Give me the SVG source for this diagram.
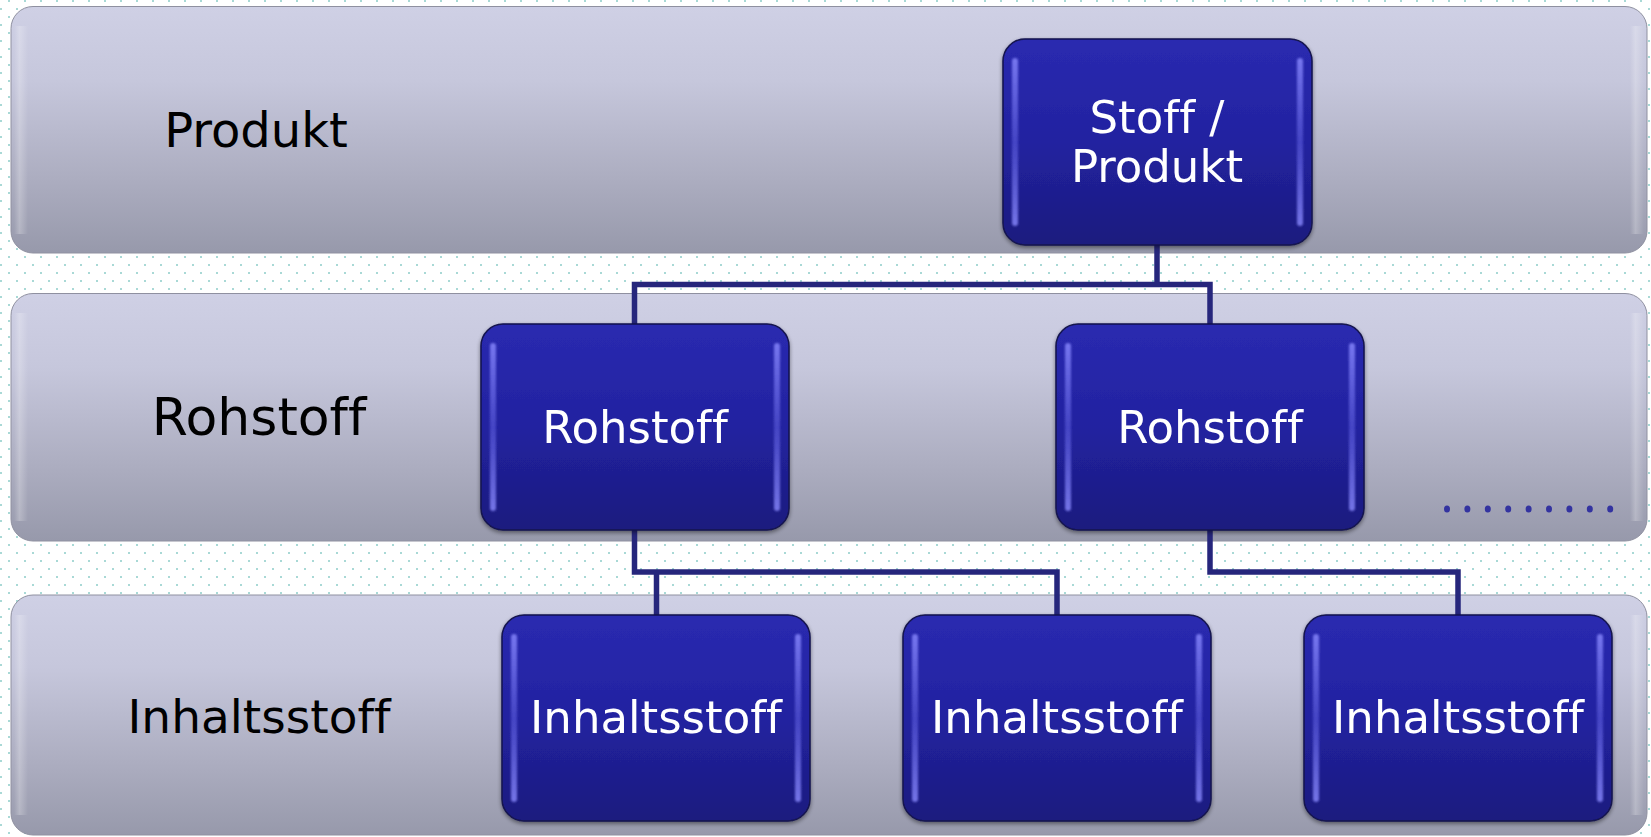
<svg xmlns="http://www.w3.org/2000/svg" width="1651" height="837" viewBox="0 0 1651 837">
<defs>
<pattern id="dots" width="16" height="16" patternUnits="userSpaceOnUse">
<rect x="8" y="0" width="2" height="2" fill="#a9d9d6"/>
<rect x="0" y="8" width="2" height="2" fill="#a9d9d6"/>
</pattern>
<linearGradient id="bandG" x1="0" y1="0" x2="0" y2="1">
<stop offset="0" stop-color="#cfd0e5"/>
<stop offset="0.3" stop-color="#c6c7dc"/>
<stop offset="0.7" stop-color="#acadc0"/>
<stop offset="1" stop-color="#9799ab"/>
</linearGradient>
<linearGradient id="bandEdge" x1="0" y1="0" x2="1" y2="0">
<stop offset="0" stop-color="#ffffff" stop-opacity="0"/>
<stop offset="0.4" stop-color="#ffffff" stop-opacity="0.25"/>
<stop offset="1" stop-color="#ffffff" stop-opacity="0"/>
</linearGradient>
<linearGradient id="nodeG" x1="0" y1="0" x2="0" y2="1">
<stop offset="0" stop-color="#2a2ab0"/>
<stop offset="0.5" stop-color="#2222a0"/>
<stop offset="1" stop-color="#1b1b7e"/>
</linearGradient>
<linearGradient id="hiG" x1="0" y1="0" x2="0" y2="1">
<stop offset="0" stop-color="#8a8aff" stop-opacity="0.8"/>
<stop offset="0.5" stop-color="#6f6ff0" stop-opacity="0.45"/>
<stop offset="1" stop-color="#8a8aff" stop-opacity="0.8"/>
</linearGradient>
<filter id="blur" x="-100%" y="-10%" width="300%" height="120%">
<feGaussianBlur stdDeviation="1.3"/>
</filter>
<filter id="sh" x="-10%" y="-10%" width="120%" height="125%">
<feGaussianBlur in="SourceAlpha" stdDeviation="2"/>
<feOffset dx="0" dy="2" result="b"/>
<feComponentTransfer><feFuncA type="linear" slope="0.45"/></feComponentTransfer>
<feMerge><feMergeNode/><feMergeNode in="SourceGraphic"/></feMerge>
</filter>
</defs>
<style>
.band{fill:url(#bandG);stroke:#8f90a0;stroke-width:1}
.bedge{fill:url(#bandEdge)}
.node{fill:url(#nodeG);stroke:#14144e;stroke-width:1.5}
.hi{fill:url(#hiG);filter:url(#blur)}
.lbl{font-family:"DejaVu Sans",sans-serif;fill:#000;text-anchor:middle;font-variant-ligatures:none;font-feature-settings:"liga" 0}
.ntx{font-family:"DejaVu Sans",sans-serif;fill:#fff;text-anchor:middle;font-size:45px;font-variant-ligatures:none;font-feature-settings:"liga" 0}
.con{fill:none;stroke:#26267c;stroke-width:5.5;stroke-linejoin:miter}
</style>
<rect width="1651" height="837" fill="#ffffff"/>
<rect width="1651" height="837" fill="url(#dots)"/>

<g id="band-produkt">
<rect class="band" x="11" y="6.5" width="1636" height="246.5" rx="22"/>
<rect class="bedge" x="14" y="26" width="14" height="208"/>
<rect class="bedge" x="1630" y="26" width="14" height="208"/>
<text class="lbl" x="256" y="147" font-size="48">Produkt</text>
</g>
<g id="band-rohstoff">
<rect class="band" x="11" y="293.5" width="1636" height="247.5" rx="22"/>
<rect class="bedge" x="14" y="313" width="14" height="208"/>
<rect class="bedge" x="1630" y="313" width="14" height="208"/>
<text class="lbl" x="259" y="435" font-size="52">Rohstoff</text>
<g fill="#3333a0">
<ellipse cx="1447" cy="509" rx="3" ry="3.5"/>
<ellipse cx="1467.4" cy="509" rx="3" ry="3.5"/>
<ellipse cx="1487.8" cy="509" rx="3" ry="3.5"/>
<ellipse cx="1508.2" cy="509" rx="3" ry="3.5"/>
<ellipse cx="1528.6" cy="509" rx="3" ry="3.5"/>
<ellipse cx="1549" cy="509" rx="3" ry="3.5"/>
<ellipse cx="1569.4" cy="509" rx="3" ry="3.5"/>
<ellipse cx="1589.8" cy="509" rx="3" ry="3.5"/>
<ellipse cx="1610.2" cy="509" rx="3" ry="3.5"/>
</g>
</g>
<g id="band-inhaltsstoff">
<rect class="band" x="11" y="595" width="1636" height="240" rx="22"/>
<rect class="bedge" x="14" y="615" width="14" height="200"/>
<rect class="bedge" x="1630" y="615" width="14" height="200"/>
<text class="lbl" x="259" y="733" font-size="47">Inhaltsstoff</text>
</g>

<g id="connectors">
<polyline class="con" points="1157,245 1157,284.5"/>
<polyline class="con" points="634.5,326 634.5,284.5 1210,284.5 1210,326"/>
<polyline class="con" points="634.5,530 634.5,572 1057,572 1057,617"/>
<polyline class="con" points="656.5,572 656.5,617"/>
<polyline class="con" points="1210,530 1210,572 1458,572 1458,617"/>
</g>

<g id="node-stoff-produkt" filter="url(#sh)">
<rect class="node" x="1003" y="39" width="309" height="206" rx="22"/>
<rect class="hi" x="1012" y="58" width="6" height="168" rx="3"/>
<rect class="hi" x="1297" y="58" width="6" height="168" rx="3"/>
<text class="ntx" x="1157" y="133">Stoff /</text>
<text class="ntx" x="1157" y="182">Produkt</text>
</g>
<g id="node-rohstoff-1" filter="url(#sh)">
<rect class="node" x="481" y="324" width="308" height="206" rx="22"/>
<rect class="hi" x="490" y="343" width="6" height="168" rx="3"/>
<rect class="hi" x="774" y="343" width="6" height="168" rx="3"/>
<text class="ntx" x="635" y="443">Rohstoff</text>
</g>
<g id="node-rohstoff-2" filter="url(#sh)">
<rect class="node" x="1056" y="324" width="308" height="206" rx="22"/>
<rect class="hi" x="1065" y="343" width="6" height="168" rx="3"/>
<rect class="hi" x="1349" y="343" width="6" height="168" rx="3"/>
<text class="ntx" x="1210" y="443">Rohstoff</text>
</g>
<g id="node-inhaltsstoff-1" filter="url(#sh)">
<rect class="node" x="502" y="615" width="308" height="206" rx="22"/>
<rect class="hi" x="511" y="634" width="6" height="168" rx="3"/>
<rect class="hi" x="795" y="634" width="6" height="168" rx="3"/>
<text class="ntx" x="656" y="733">Inhaltsstoff</text>
</g>
<g id="node-inhaltsstoff-2" filter="url(#sh)">
<rect class="node" x="903" y="615" width="308" height="206" rx="22"/>
<rect class="hi" x="912" y="634" width="6" height="168" rx="3"/>
<rect class="hi" x="1196" y="634" width="6" height="168" rx="3"/>
<text class="ntx" x="1057" y="733">Inhaltsstoff</text>
</g>
<g id="node-inhaltsstoff-3" filter="url(#sh)">
<rect class="node" x="1304" y="615" width="308" height="206" rx="22"/>
<rect class="hi" x="1313" y="634" width="6" height="168" rx="3"/>
<rect class="hi" x="1597" y="634" width="6" height="168" rx="3"/>
<text class="ntx" x="1458" y="733">Inhaltsstoff</text>
</g>
</svg>
